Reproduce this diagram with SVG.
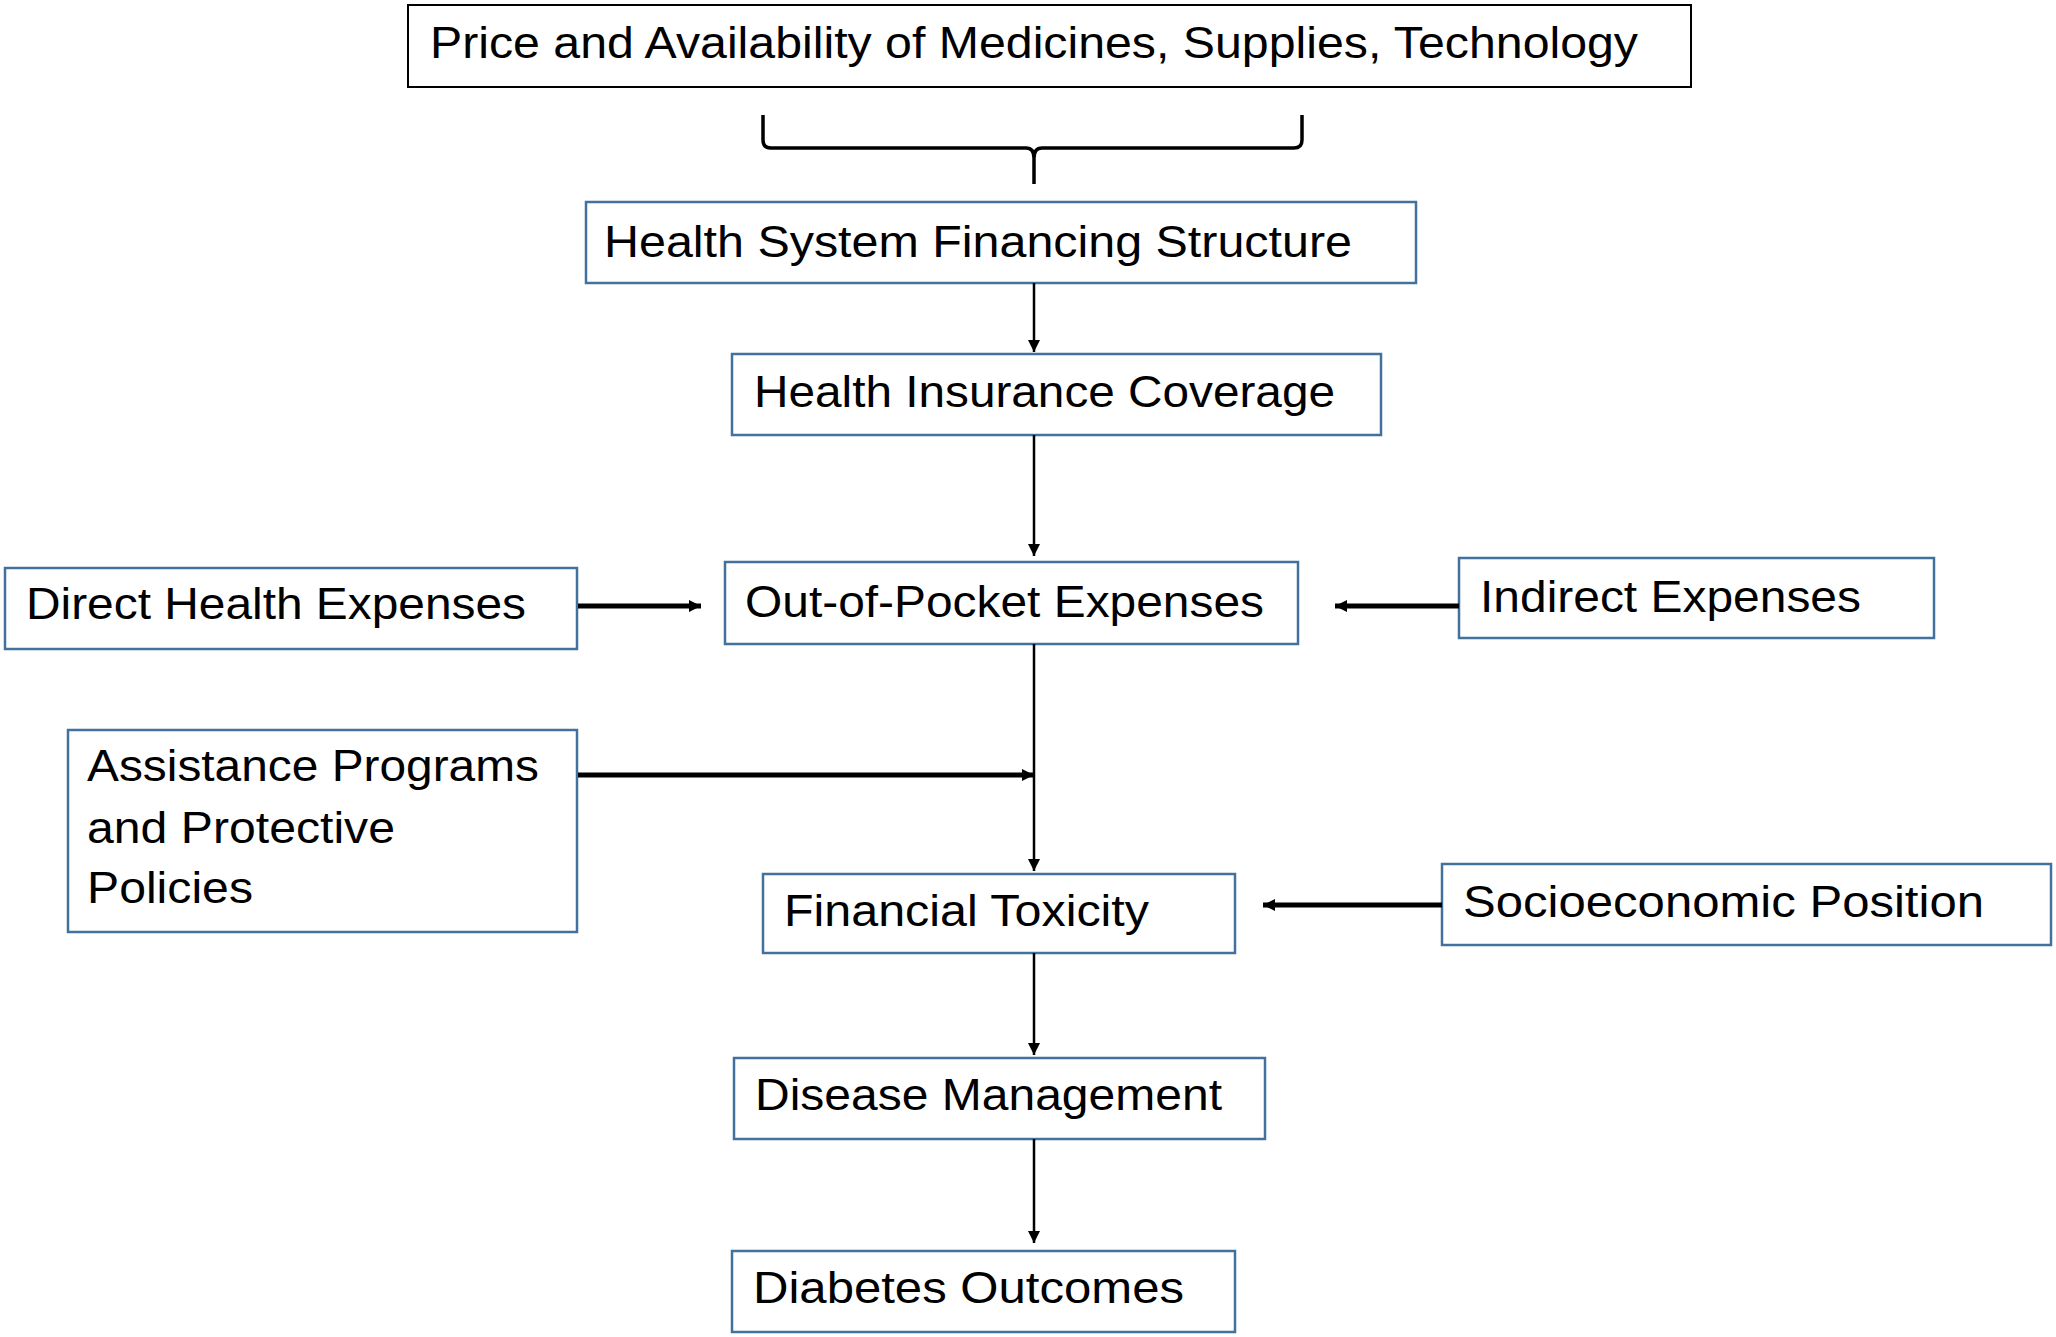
<svg xmlns="http://www.w3.org/2000/svg" width="2056" height="1337" viewBox="0 0 2056 1337">
<style>
.b{fill:#fff;stroke:#41719c;stroke-width:2.5}
.k{fill:#fff;stroke:#000;stroke-width:2}
text{font-family:"Liberation Sans",Arial,sans-serif;font-size:44px;fill:#000}
.c{stroke:#000;stroke-width:2.5;fill:none}
.t{stroke:#000;stroke-width:5;fill:none}
</style>
<defs>
<marker id="a" viewBox="0 0 10 10" refX="10" refY="5" markerWidth="5" markerHeight="6" markerUnits="strokeWidth" orient="auto"><path d="M0,0L10,5L0,10z"/></marker>
<marker id="at" viewBox="0 0 10 10" refX="10" refY="5" markerWidth="2.4" markerHeight="3" markerUnits="strokeWidth" orient="auto"><path d="M0,0L10,5L0,10z"/></marker>
</defs>
<rect width="2056" height="1337" fill="#fff"/>
<g id="n1"><rect class="k" x="408" y="5" width="1283" height="82"/><text x="430" y="58" textLength="1208" lengthAdjust="spacingAndGlyphs">Price and Availability of Medicines, Supplies, Technology</text></g>
<g id="n2"><rect class="b" x="586" y="202" width="830" height="81"/><text x="604" y="257" textLength="748" lengthAdjust="spacingAndGlyphs">Health System Financing Structure</text></g>
<g id="n3"><rect class="b" x="732" y="354" width="649" height="81"/><text x="754" y="407" textLength="581" lengthAdjust="spacingAndGlyphs">Health Insurance Coverage</text></g>
<g id="n4"><rect class="b" x="725" y="562" width="573" height="82"/><text x="745" y="617" textLength="519" lengthAdjust="spacingAndGlyphs">Out-of-Pocket Expenses</text></g>
<g id="n5"><rect class="b" x="5" y="568" width="572" height="81"/><text x="26" y="619" textLength="500" lengthAdjust="spacingAndGlyphs">Direct Health Expenses</text></g>
<g id="n6"><rect class="b" x="1459" y="558" width="475" height="80"/><text x="1480" y="612" textLength="381" lengthAdjust="spacingAndGlyphs">Indirect Expenses</text></g>
<g id="n7"><rect class="b" x="68" y="730" width="509" height="202"/><text x="87" y="781" textLength="452" lengthAdjust="spacingAndGlyphs">Assistance Programs</text><text x="87" y="843" textLength="308" lengthAdjust="spacingAndGlyphs">and Protective</text><text x="87" y="903" textLength="166" lengthAdjust="spacingAndGlyphs">Policies</text></g>
<g id="n8"><rect class="b" x="763" y="874" width="472" height="79"/><text x="784" y="926" textLength="365" lengthAdjust="spacingAndGlyphs">Financial Toxicity</text></g>
<g id="n9"><rect class="b" x="1442" y="864" width="609" height="81"/><text x="1463" y="917" textLength="521" lengthAdjust="spacingAndGlyphs">Socioeconomic Position</text></g>
<g id="n10"><rect class="b" x="734" y="1058" width="531" height="81"/><text x="755" y="1110" textLength="467" lengthAdjust="spacingAndGlyphs">Disease Management</text></g>
<g id="n11"><rect class="b" x="732" y="1251" width="503" height="81"/><text x="753" y="1303" textLength="431" lengthAdjust="spacingAndGlyphs">Diabetes Outcomes</text></g>
<g id="connectors">
<path class="t" d="M763,115 V140 Q763,148 771,148 H1026 Q1034,148 1034,158 Q1034,148 1042,148 H1294 Q1302,148 1302,140 V115 M1034,158 V184" style="stroke-width:3.5"/>
<path class="c" marker-end="url(#a)" d="M1034,283 V352"/>
<path class="c" marker-end="url(#a)" d="M1034,435 V556"/>
<path class="c" marker-end="url(#a)" d="M1034,644 V871"/>
<path class="c" marker-end="url(#a)" d="M1034,953 V1055"/>
<path class="c" marker-end="url(#a)" d="M1034,1139 V1243"/>
<path class="t" marker-end="url(#at)" d="M578,606 H701"/>
<path class="t" marker-end="url(#at)" d="M1459,606 H1335"/>
<path class="t" marker-end="url(#at)" d="M578,775 H1034"/>
<path class="t" marker-end="url(#at)" d="M1442,905 H1263"/>
</g>
</svg>
